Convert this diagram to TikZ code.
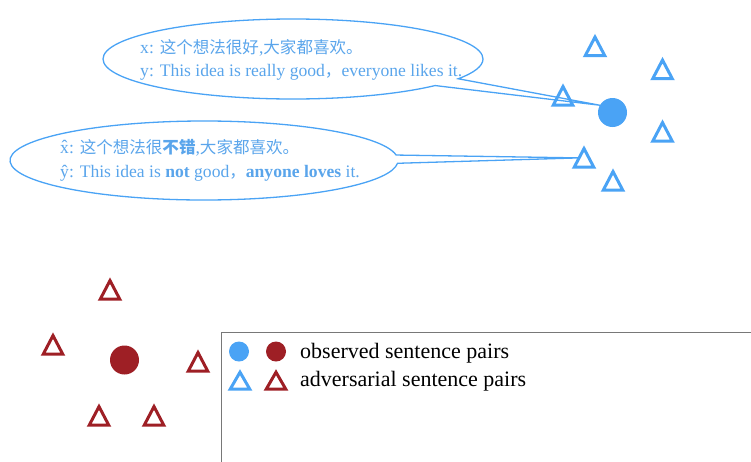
\documentclass[tikz,border=0pt]{standalone}
\usepackage{fontspec}
\setmainfont{Liberation Serif}
\newfontfamily\cjk{Noto Sans CJK SC}[Scale=0.94]
\usetikzlibrary{shapes.geometric,shapes.callouts}
\definecolor{ptblue}{RGB}{74,163,245}
\definecolor{txtblue}{RGB}{90,165,235}
\definecolor{ptred}{RGB}{158,31,37}
\definecolor{boxgray}{RGB}{120,120,120}
\tikzset{
  tri/.style={regular polygon, regular polygon sides=3, minimum size=22.6pt,
    inner sep=0pt, outer sep=0pt, line width=3pt, draw=#1},
  ftri/.style={tri=#1, yscale=1.1, transform shape},
  dot/.style={circle, fill=#1, inner sep=0pt, outer sep=0pt, minimum size=29pt},
  ldot/.style={circle, fill=#1, inner sep=0pt, outer sep=0pt, minimum size=20pt},
  bubble/.style={ellipse callout, draw=ptblue, line width=1.3pt, inner sep=0pt,
    outer sep=0pt, callout pointer arc=12},
  btext/.style={anchor=base west, inner sep=0pt, text=txtblue,
    font=\fontsize{17.6}{20}\selectfont},
  ltext/.style={anchor=base west, inner sep=0pt, font=\fontsize{22}{24}\selectfont},
}
\begin{document}
\begin{tikzpicture}[x=1pt,y=-1pt]
\useasboundingbox (0,0) rectangle (751,461);
% legend box
\node[draw=boxgray, line width=0.8pt, anchor=north west, inner sep=0pt,
  minimum width=600pt, minimum height=200pt] (legend) at (221,332) {};
% blue cluster
\node[dot=ptblue] (bc) at (612.5,112.5) {};
\node[ftri=ptblue] (t1) at (595,49.5) {};
\node[ftri=ptblue] (t2) at (662.5,72.5) {};
\node[ftri=ptblue] (t3) at (563,99) {};
\node[ftri=ptblue] (t4) at (662.5,135) {};
\node[ftri=ptblue] (t5) at (584,161) {};
\node[ftri=ptblue] (t6) at (613,184) {};
% red cluster
\node[dot=ptred] (rc) at (124.5,360) {};
\node[ftri=ptred] (r1) at (110,293) {};
\node[ftri=ptred] (r2) at (53,348) {};
\node[ftri=ptred] (r3) at (198,365) {};
\node[ftri=ptred] (r4) at (99,419) {};
\node[ftri=ptred] (r5) at (154,419) {};
% callouts
\node[bubble, minimum width=380pt, minimum height=80pt,
  callout absolute pointer={(bc.150)}] (b1) at (293,59) {};
\node[bubble, minimum width=388pt, minimum height=79pt,
  callout absolute pointer={(t5.side 1)}] (b2) at (204,160.5) {};
\node[btext] (tx1) at (140,53) {x: {\cjk 这个想法很好},{\cjk 大家都喜欢。}};
\node[btext] (ty1) at (140,76) {y: This idea is really good{\cjk ，}everyone likes it.};
\node[btext] (tx2) at (60,153) {\^{x}: {\cjk 这个想法很\textbf{不错}},{\cjk 大家都喜欢。}};
\node[btext] (ty2) at (60,177) {\^{y}: This idea is \textbf{not} good{\cjk ，}\textbf{anyone loves} it.};
% legend content
\node[ldot=ptblue] (lb) at (239,351.5) {};
\node[ldot=ptred] (lr) at (276,351.5) {};
\node[tri=ptblue] (lbt) at (240,383.5) {};
\node[tri=ptred] (lrt) at (276,383.5) {};
\node[ltext] (l1) at (300,358.3) {observed sentence pairs};
\node[ltext] (l2) at (300,386.7) {adversarial sentence pairs};
\end{tikzpicture}
\end{document}
